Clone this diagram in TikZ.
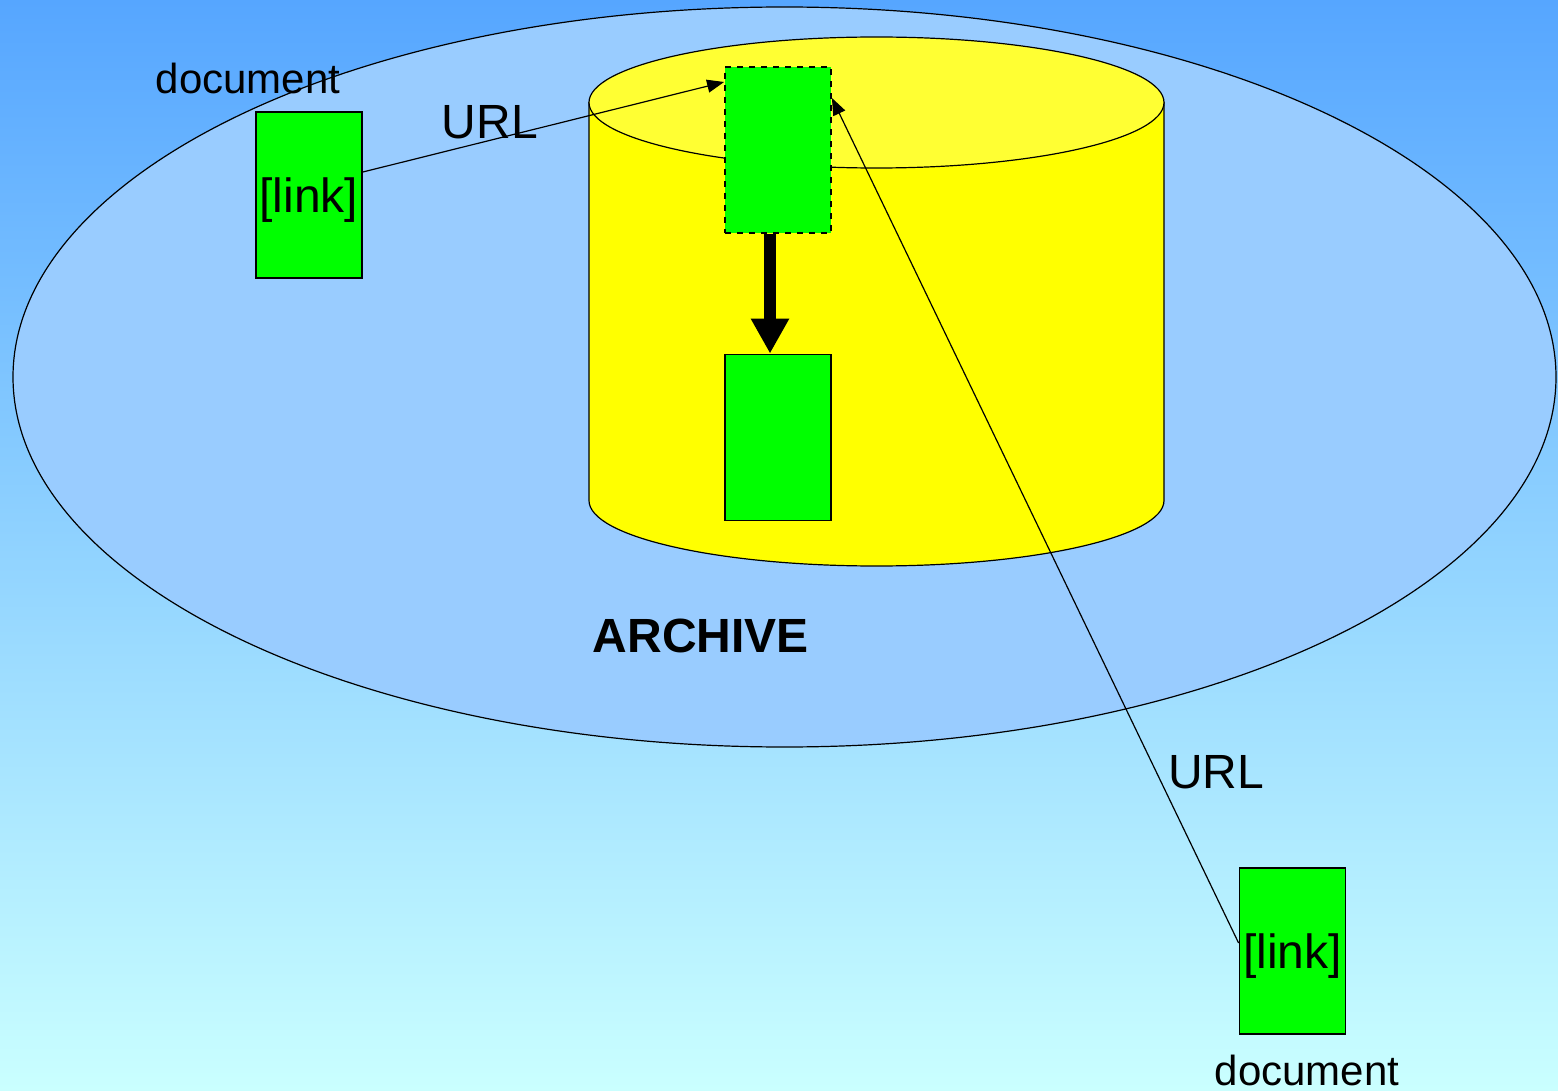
\documentclass[tikz,border=0pt]{standalone}
\usepackage{fontspec}
\setmainfont{Liberation Sans}
\usetikzlibrary{arrows.meta}
\definecolor{skytop}{HTML}{56A6FF}
\definecolor{skybot}{HTML}{CAFFFF}
\definecolor{archfill}{HTML}{99CCFF}
\definecolor{cylbody}{HTML}{FFFF00}
\definecolor{cyltop}{HTML}{FFFF33}
\definecolor{docgreen}{HTML}{00FF00}
\tikzset{
  docbox/.style={draw=black, line width=0.9pt, fill=docgreen, minimum width=53pt,
    minimum height=83pt, inner sep=0pt, text depth=0pt, font=\fontsize{24}{26}\selectfont},
  biglabel/.style={inner sep=0pt, font=\fontsize{24}{26}\selectfont},
  smalllabel/.style={inner sep=0pt, font=\fontsize{21}{23}\selectfont},
  urlarrow/.style={line width=0.6pt, -{Triangle[length=8.5pt,width=6.5pt]}},
  outline/.style={draw=black, line width=0.6pt}
}
\begin{document}
\begin{tikzpicture}[x=0.5pt, y=-0.5pt]
  % canvas with vertical gradient
  \useasboundingbox (0,0) rectangle (1558,1091);
  \shade[top color=skytop, bottom color=skybot] (0,0) rectangle (1558,1091);

  % archive region
  \path[outline, fill=archfill] (784.5,377) ellipse [x radius=771.5, y radius=370];

  % storage cylinder: body, then top face
  \path[outline, fill=cylbody]
    (589,102.5) -- (589,500.5)
    arc[start angle=180, end angle=0, x radius=287.5, y radius=65.5]
    -- (1164,102.5) -- cycle;
  \path[outline, fill=cyltop] (876.5,102.5) ellipse [x radius=287.5, y radius=65.5];

  % documents
  \node[docbox, dashed] (arch) at (778,150) {};
  \node[docbox] (copy) at (778,437.5) {};
  \node[docbox] (ldoc) at (309,195) {[link]};
  \node[docbox] (rdoc) at (1292.5,951) {[link]};

  % labels
  \node[smalllabel] (ldoclbl) at (248,78) {document};
  \node[smalllabel] (rdoclbl) at (1307,1070) {document};
  \node[biglabel] (lurl) at (490,122) {URL};
  \node[biglabel] (rurl) at (1216,772) {URL};
  \node[biglabel, font=\fontsize{24}{26}\selectfont\bfseries] (archlbl) at (701,636) {ARCHIVE};

  % connectors
  \draw[urlarrow] ([yshift=11.5pt]ldoc.east) -- ([yshift=34pt]arch.west);
  \draw[urlarrow] ([yshift=4pt]rdoc.west) -- ([yshift=26pt]arch.east);
  \draw[line width=6pt, -{Triangle[length=17.5pt,width=18pt]}]
    ([xshift=-4pt]arch.south) -- ([xshift=-4pt]copy.north);
\end{tikzpicture}
\end{document}
